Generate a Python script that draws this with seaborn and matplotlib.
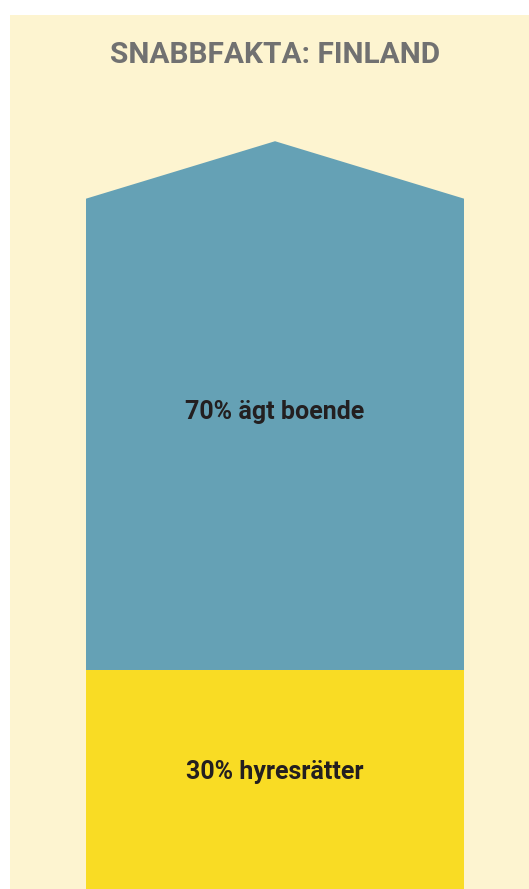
import matplotlib
matplotlib.use("Agg")
import matplotlib.pyplot as plt
from matplotlib.patches import Polygon
import seaborn as sns
import pandas as pd

title = "SNABBFAKTA: FINLAND"
categories = ["Finland"]
rent_share = [30]
owned_share = [70]
rent_label = "30% hyresrätter"
owned_label = "70% ägt boende"

BLUE = "#65A1B5"
YELLOW = "#F9DC24"
CREAM = "#FDF4D0"
GRAY = "#717171"
DARK = "#231F20"
roof_h = 7.6

sns.set_theme(style="white")
plt.rcParams["font.family"] = ["Roboto", "DejaVu Sans"]

fig = plt.figure(figsize=(5.29, 8.89), dpi=100, facecolor="white")
ax = fig.add_axes([10 / 529, 0, 519 / 529, (889 - 15) / 889])
ax.set_facecolor(CREAM)

df = pd.DataFrame({"cat": categories, "rent": rent_share,
                   "owned": owned_share})
df["total"] = df["rent"] + df["owned"]
df["body"] = df["total"] - roof_h

sns.barplot(data=df, x="cat", y="body", color=BLUE, saturation=1,
            width=0.8, ax=ax, linewidth=0)
n_blue = len(ax.patches)
sns.barplot(data=df, x="cat", y="rent", color=YELLOW, saturation=1,
            width=0.8, ax=ax, linewidth=0)

for p, tot in zip(ax.patches[:n_blue], df["total"]):
    x0 = p.get_x()
    w = p.get_width()
    top = p.get_height() - 0.3
    ax.add_patch(Polygon([[x0, top], [x0, top + 0.3], [x0 + w / 2, tot],
                          [x0 + w, top + 0.3], [x0 + w, top]],
                         closed=True, facecolor=BLUE, edgecolor="none",
                         zorder=0.5))

for i, (r, o) in enumerate(zip(df["rent"], df["owned"])):
    ax.text(i, r + (o - roof_h) / 2 + 3.0, owned_label, ha="center",
            va="center", fontsize=18, fontweight="bold", color=DARK)
    ax.text(i, r / 2 + 1.5, rent_label, ha="center", va="center",
            fontsize=18, fontweight="bold", color=DARK)

ax.set_xlim(-0.561, 0.5376)
ax.set_ylim(1.06, 116.7)
for s in ax.spines.values():
    s.set_visible(False)
ax.set_xticks([])
ax.set_yticks([])
ax.set_xlabel("")
ax.set_ylabel("")

fig.text(275 / 529, 1 - 55 / 889, title, ha="center", va="center",
         fontsize=21.5, fontweight="bold", color=GRAY)

fig.savefig("out.png", dpi=100, facecolor="white")
